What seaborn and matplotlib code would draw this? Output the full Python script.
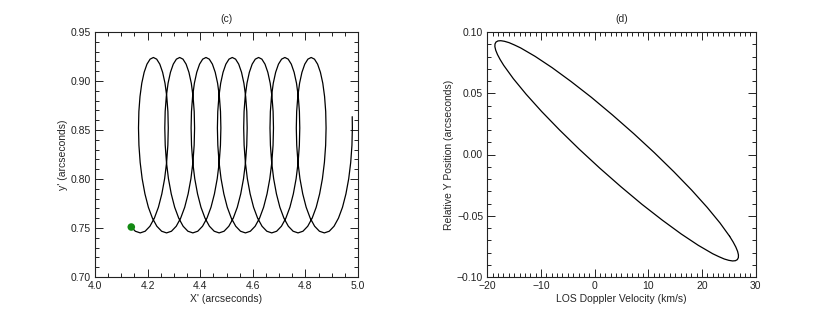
import matplotlib
matplotlib.use("Agg")
import matplotlib.pyplot as plt
import seaborn as sns
import pandas as pd
from matplotlib.ticker import MultipleLocator, FuncFormatter

# ---------------- data ----------------
# panel (c): looping track, X' and y' in arcseconds
track_x = [
    4.1351, 4.1533,
    4.1720, 4.1907, 4.2089, 4.2258, 4.2411, 4.2541, 4.2647, 4.2723, 4.2770, 4.2786, 4.2772, 4.2729, 4.2661, 4.2571, 4.2464, 4.2345,
    4.2220, 4.2095, 4.1976, 4.1869, 4.1779, 4.1711, 4.1668, 4.1654, 4.1670, 4.1717, 4.1793, 4.1899, 4.2029, 4.2182, 4.2351, 4.2533,
    4.2720, 4.2907, 4.3089, 4.3258, 4.3411, 4.3541, 4.3647, 4.3723, 4.3770, 4.3786, 4.3772, 4.3729, 4.3661, 4.3571, 4.3464, 4.3345,
    4.3220, 4.3095, 4.2976, 4.2869, 4.2779, 4.2711, 4.2668, 4.2654, 4.2670, 4.2717, 4.2793, 4.2899, 4.3029, 4.3182, 4.3351, 4.3533,
    4.3720, 4.3907, 4.4089, 4.4258, 4.4411, 4.4541, 4.4647, 4.4723, 4.4770, 4.4786, 4.4772, 4.4729, 4.4661, 4.4571, 4.4464, 4.4345,
    4.4220, 4.4095, 4.3976, 4.3869, 4.3779, 4.3711, 4.3668, 4.3654, 4.3670, 4.3717, 4.3793, 4.3899, 4.4029, 4.4182, 4.4351, 4.4533,
    4.4720, 4.4907, 4.5089, 4.5258, 4.5411, 4.5541, 4.5647, 4.5723, 4.5770, 4.5786, 4.5772, 4.5729, 4.5661, 4.5571, 4.5464, 4.5345,
    4.5220, 4.5095, 4.4976, 4.4869, 4.4779, 4.4711, 4.4668, 4.4654, 4.4670, 4.4717, 4.4793, 4.4899, 4.5029, 4.5182, 4.5351, 4.5533,
    4.5720, 4.5907, 4.6089, 4.6258, 4.6411, 4.6541, 4.6647, 4.6723, 4.6770, 4.6786, 4.6772, 4.6729, 4.6661, 4.6571, 4.6464, 4.6345,
    4.6220, 4.6095, 4.5976, 4.5869, 4.5779, 4.5711, 4.5668, 4.5654, 4.5670, 4.5717, 4.5793, 4.5899, 4.6029, 4.6182, 4.6351, 4.6533,
    4.6720, 4.6907, 4.7089, 4.7258, 4.7411, 4.7541, 4.7647, 4.7723, 4.7770, 4.7786, 4.7772, 4.7729, 4.7661, 4.7571, 4.7464, 4.7345,
    4.7220, 4.7095, 4.6976, 4.6869, 4.6779, 4.6711, 4.6668, 4.6654, 4.6670, 4.6717, 4.6793, 4.6899, 4.7029, 4.7182, 4.7351, 4.7533,
    4.7720, 4.7907, 4.8089, 4.8258, 4.8411, 4.8541, 4.8647, 4.8723, 4.8770, 4.8786, 4.8772, 4.8729, 4.8661, 4.8571, 4.8464, 4.8345,
    4.8220, 4.8095, 4.7976, 4.7869, 4.7779, 4.7711, 4.7668, 4.7654, 4.7670, 4.7717, 4.7793, 4.7899, 4.8029, 4.8182, 4.8351, 4.8533,
    4.8720, 4.8907, 4.9089, 4.9258, 4.9411, 4.9541, 4.9647, 4.9723, 4.9770, 4.9786, 4.9780,
]
track_y = [
    0.7518, 0.7467,
    0.7450, 0.7467, 0.7518, 0.7601, 0.7712, 0.7848, 0.8003, 0.8170, 0.8345, 0.8520, 0.8688, 0.8842, 0.8978, 0.9089, 0.9172, 0.9223,
    0.9240, 0.9223, 0.9172, 0.9089, 0.8978, 0.8842, 0.8688, 0.8520, 0.8345, 0.8170, 0.8003, 0.7848, 0.7712, 0.7601, 0.7518, 0.7467,
    0.7450, 0.7467, 0.7518, 0.7601, 0.7712, 0.7848, 0.8003, 0.8170, 0.8345, 0.8520, 0.8688, 0.8842, 0.8978, 0.9089, 0.9172, 0.9223,
    0.9240, 0.9223, 0.9172, 0.9089, 0.8978, 0.8842, 0.8688, 0.8520, 0.8345, 0.8170, 0.8003, 0.7848, 0.7712, 0.7601, 0.7518, 0.7467,
    0.7450, 0.7467, 0.7518, 0.7601, 0.7712, 0.7848, 0.8003, 0.8170, 0.8345, 0.8520, 0.8688, 0.8842, 0.8978, 0.9089, 0.9172, 0.9223,
    0.9240, 0.9223, 0.9172, 0.9089, 0.8978, 0.8842, 0.8688, 0.8520, 0.8345, 0.8170, 0.8003, 0.7848, 0.7712, 0.7601, 0.7518, 0.7467,
    0.7450, 0.7467, 0.7518, 0.7601, 0.7712, 0.7848, 0.8003, 0.8170, 0.8345, 0.8520, 0.8688, 0.8842, 0.8978, 0.9089, 0.9172, 0.9223,
    0.9240, 0.9223, 0.9172, 0.9089, 0.8978, 0.8842, 0.8688, 0.8520, 0.8345, 0.8170, 0.8003, 0.7848, 0.7712, 0.7601, 0.7518, 0.7467,
    0.7450, 0.7467, 0.7518, 0.7601, 0.7712, 0.7848, 0.8003, 0.8170, 0.8345, 0.8520, 0.8688, 0.8842, 0.8978, 0.9089, 0.9172, 0.9223,
    0.9240, 0.9223, 0.9172, 0.9089, 0.8978, 0.8842, 0.8688, 0.8520, 0.8345, 0.8170, 0.8003, 0.7848, 0.7712, 0.7601, 0.7518, 0.7467,
    0.7450, 0.7467, 0.7518, 0.7601, 0.7712, 0.7848, 0.8003, 0.8170, 0.8345, 0.8520, 0.8688, 0.8842, 0.8978, 0.9089, 0.9172, 0.9223,
    0.9240, 0.9223, 0.9172, 0.9089, 0.8978, 0.8842, 0.8688, 0.8520, 0.8345, 0.8170, 0.8003, 0.7848, 0.7712, 0.7601, 0.7518, 0.7467,
    0.7450, 0.7467, 0.7518, 0.7601, 0.7712, 0.7848, 0.8003, 0.8170, 0.8345, 0.8520, 0.8688, 0.8842, 0.8978, 0.9089, 0.9172, 0.9223,
    0.9240, 0.9223, 0.9172, 0.9089, 0.8978, 0.8842, 0.8688, 0.8520, 0.8345, 0.8170, 0.8003, 0.7848, 0.7712, 0.7601, 0.7518, 0.7467,
    0.7450, 0.7467, 0.7518, 0.7601, 0.7712, 0.7848, 0.8003, 0.8170, 0.8345, 0.8520, 0.8636,
]
start_x = [4.138]
start_y = [0.751]

# panel (d): LOS Doppler velocity (km/s) vs relative Y position (arcsec)
vel = [
    25.147, 25.808, 26.303, 26.630, 26.786, 26.768, 26.580, 26.219, 25.690, 24.995,
    24.142, 23.138, 21.988, 19.289, 16.129, 12.603, 8.819, 4.892, 0.940, -2.914,
    -6.558, -9.876, -12.768, -15.150, -16.947, -17.608, -18.103, -18.430, -18.586, -18.568,
    -18.380, -18.019, -17.490, -16.795, -15.942, -14.938, -13.788, -11.089, -7.929, -4.403,
    -0.619, 3.308, 7.260, 11.114, 14.758, 18.076, 20.968, 23.350, 25.147,
]
rel_y = [
    -0.0668, -0.0715, -0.0756, -0.0791, -0.0820, -0.0842, -0.0858, -0.0867, -0.0869, -0.0864,
    -0.0853, -0.0834, -0.0810, -0.0741, -0.0649, -0.0536, -0.0407, -0.0263, -0.0111, 0.0045,
    0.0201, 0.0351, 0.0492, 0.0619, 0.0728, 0.0775, 0.0816, 0.0851, 0.0880, 0.0902,
    0.0918, 0.0927, 0.0929, 0.0924, 0.0913, 0.0894, 0.0870, 0.0801, 0.0709, 0.0596,
    0.0467, 0.0323, 0.0171, 0.0015, -0.0141, -0.0291, -0.0432, -0.0559, -0.0668,
]

panel_titles = ["(c)", "(d)"]

# ---------------- styling ----------------
sns.set_theme(style="ticks")
plt.rcParams["font.family"] = ["Liberation Sans", "DejaVu Sans"]
plt.rcParams.update({
    "font.size": 7.5,
    "axes.linewidth": 0.8,
    "axes.edgecolor": "#222222",
    "xtick.color": "#222222",
    "ytick.color": "#222222",
    "xtick.labelsize": 7.5,
    "ytick.labelsize": 7.5,
    "axes.labelsize": 7.5,
    "axes.titlesize": 7.5,
    "axes.unicode_minus": True,
})


def fmt(decimals):
    return FuncFormatter(lambda v, p: f"{v:.{decimals}f}".replace("-", "\u2212"))


fig = plt.figure(figsize=(8.2, 3.16), dpi=100)
ax1 = fig.add_axes([95 / 820, 39 / 316, 263 / 820, 245 / 316])
ax2 = fig.add_axes([487.3 / 820, 39 / 316, 268.4 / 820, 245 / 316])

df_track = pd.DataFrame({"x": track_x, "y": track_y})
sns.lineplot(data=df_track, x="x", y="y", sort=False, estimator=None,
             color="black", linewidth=0.9, ax=ax1)
sns.scatterplot(x=start_x, y=start_y, color="#138a13", s=30, edgecolor="none",
                ax=ax1, zorder=5)
ax1.set_xlim(4.0, 5.0)
ax1.set_ylim(0.70, 0.95)
ax1.xaxis.set_major_locator(MultipleLocator(0.2))
ax1.xaxis.set_minor_locator(MultipleLocator(0.05))
ax1.yaxis.set_major_locator(MultipleLocator(0.05))
ax1.yaxis.set_minor_locator(MultipleLocator(0.01))
ax1.xaxis.set_major_formatter(fmt(1))
ax1.yaxis.set_major_formatter(fmt(2))
ax1.set_xlabel("X' (arcseconds)", labelpad=2)
ax1.set_ylabel("y' (arcseconds)", labelpad=2)
ax1.set_title(panel_titles[0], pad=7)

df_ell = pd.DataFrame({"v": vel, "y": rel_y})
sns.lineplot(data=df_ell, x="v", y="y", sort=False, estimator=None,
             color="black", linewidth=0.9, ax=ax2)
ax2.set_xlim(-20, 30)
ax2.set_ylim(-0.10, 0.10)
ax2.xaxis.set_major_locator(MultipleLocator(10))
ax2.xaxis.set_minor_locator(MultipleLocator(1))
ax2.yaxis.set_major_locator(MultipleLocator(0.05))
ax2.yaxis.set_minor_locator(MultipleLocator(0.01))
ax2.xaxis.set_major_formatter(fmt(0))
ax2.yaxis.set_major_formatter(fmt(2))
ax2.set_xlabel("LOS Doppler Velocity (km/s)", labelpad=2)
ax2.set_ylabel("Relative Y Position (arcseconds)", labelpad=2)
ax2.set_title(panel_titles[1], pad=7)

for ax in (ax1, ax2):
    ax.tick_params(which="both", direction="in", top=True, right=True, width=0.7)
    ax.tick_params(which="major", length=6, pad=3)
    ax.tick_params(which="minor", length=3)
    for s in ax.spines.values():
        s.set_visible(True)

fig.savefig("out.png", dpi=100)
